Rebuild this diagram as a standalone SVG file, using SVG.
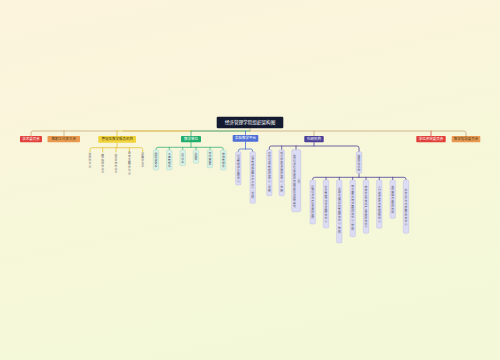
<svg xmlns="http://www.w3.org/2000/svg" width="500" height="360" viewBox="0 0 500 360">
<defs>
<linearGradient id="bg" x1="0" y1="0" x2="0.3" y2="1">
<stop offset="0" stop-color="#fcf3dc"/>
<stop offset="1" stop-color="#f3f9d8"/>
</linearGradient>
</defs>
<style>
text{font-family:"Liberation Sans","Noto Sans CJK SC",sans-serif}
.nt{font-size:3.5px;text-anchor:middle;dominant-baseline:central}
.w{fill:#fff}
.d{fill:#4a3a1a}
.vt{writing-mode:vertical-rl;font-size:2.8px;text-anchor:middle;dominant-baseline:central;fill:#5a5a6a}
.lt{fill:none;stroke-width:0.8;stroke-linecap:round;stroke-linejoin:round}
.gb{fill:#d9f1e6;stroke:#9fd6be;stroke-width:0.4}
.pb{fill:#dcdcf4;stroke:#b7b7e2;stroke-width:0.4}
</style>
<rect width="500" height="360" fill="url(#bg)"/>
<g id="connectors" class="lt">
<path d="M250 128.3V131H123" stroke="#c9a87c"/>
<path d="M191 131H250" stroke="#39b37a"/>
<path d="M117 131H191" stroke="#e2c33a"/>
<path d="M117 131H33Q31 131 31 133V136" stroke="#c9a87c"/>
<path d="M64 131V136" stroke="#c9a87c"/>
<path d="M117 131V136" stroke="#e2c33a"/>
<path d="M191 131V136" stroke="#39b37a"/>
<path d="M245.5 131V135" stroke="#4d6fd6"/>
<path d="M314 131V136" stroke="#c9a87c"/>
<path d="M431 131V136" stroke="#e04848"/>
<path d="M250 131H464Q466 131 466 133V136" stroke="#c9a87c"/>
<path d="M117 143V147.7M90 152V149.7Q90 147.7 92 147.7H140.7Q142.7 147.7 142.7 149.7V152M102.7 147.7V152M116 147.7V152M129.3 147.7V152" stroke="#e2c33a"/>
<path d="M191 142.3V147.3M156 150V149.3Q156 147.3 158 147.3H221.3Q223.3 147.3 223.3 149.3V150M169.3 147.3V150M182.7 147.3V150M196 147.3V150M210 147.3V150" stroke="#39b37a"/>
<path d="M245.5 141.7V149M238.3 151.7V151Q238.3 149 240.3 149H250.7Q252.7 149 252.7 151V151.7" stroke="#4d6fd6"/>
<path d="M314 142.3V146M269.3 149.7V148Q269.3 146 271.3 146H357Q359 146 359 148V151.7M281.7 146V149.7M296 146V149.7" stroke="#4b3f99"/>
<path d="M359 173.3V177.3M312.7 180V179.3Q312.7 177.3 314.7 177.3H404Q406 177.3 406 179.3V180M326 177.3V180M339.3 177.3V180M352.7 177.3V180M366 177.3V180M379.3 177.3V180M392.7 177.3V180" stroke="#4b3f99"/>
</g>
<g id="title">
<rect x="216.7" y="116.7" width="66.6" height="11.6" rx="1.2" fill="#141a30"/>
<text x="250" y="122.5" class="nt w" style="font-size:4.6px">经济管理学院组织架构图</text>
</g>
<g id="n-xueshu">
<rect x="20" y="136" width="22" height="6.3" rx="0.8" fill="#e23f3b"/>
<text x="31" y="139.2" class="nt w">学术委员会</text>
</g>
<g id="n-jiaozhigong">
<rect x="47.5" y="136" width="32.5" height="6.3" rx="0.8" fill="#ea9a50"/>
<text x="63.8" y="139.2" class="nt d">教职工代表大会</text>
</g>
<g id="n-guanli">
<rect x="98.3" y="136" width="37.7" height="6.7" rx="0.8" fill="#f1d33a"/>
<text x="117.2" y="139.4" class="nt d">管理及教学服务机构</text>
</g>
<g id="n-jiaoxue">
<rect x="181" y="136" width="20" height="6.3" rx="0.8" fill="#1fae6c"/>
<text x="191" y="139.2" class="nt w">教学单位</text>
</g>
<g id="n-shiyan">
<rect x="232.7" y="135" width="25.6" height="6.7" rx="0.8" fill="#4d6fd6"/>
<text x="245.5" y="138.4" class="nt w">实验教学平台</text>
</g>
<g id="n-keyan">
<rect x="304.3" y="136" width="19.4" height="6.3" rx="0.8" fill="#4b3f99"/>
<text x="314" y="139.2" class="nt w">科研机构</text>
</g>
<g id="n-xuewei">
<rect x="416.3" y="136" width="29.4" height="6.3" rx="0.8" fill="#e23f3b"/>
<text x="431" y="139.2" class="nt w">学位评定委员会</text>
</g>
<g id="n-zhidao">
<rect x="451.7" y="136" width="28.6" height="6.3" rx="0.8" fill="#ea9a50"/>
<text x="466" y="139.2" class="nt d">教学指导委员会</text>
</g>
<g id="y1"><text x="90" y="160" class="vt">党政办公室</text></g>
<g id="y2"><text x="102.7" y="163" class="vt">教学科研办公室</text></g>
<g id="y3"><text x="116" y="163" class="vt">学生工作办公室</text></g>
<g id="y4"><text x="129.3" y="163" class="vt">研究生教育办公室</text></g>
<g id="y5"><text x="142.7" y="160" class="vt">团委学生会</text></g>
<g id="g1"><rect x="153.3" y="150" width="5.4" height="20" rx="1.2" class="gb"/><text x="156" y="160" class="vt">国际贸易系</text></g>
<g id="g2"><rect x="166.6" y="150" width="5.4" height="20" rx="1.2" class="gb"/><text x="169.3" y="160" class="vt">工商管理系</text></g>
<g id="g3"><rect x="180" y="150" width="5.4" height="15.7" rx="1.2" class="gb"/><text x="182.7" y="157.8" class="vt">会计学系</text></g>
<g id="g4"><rect x="193.3" y="150" width="5.4" height="13.3" rx="1.2" class="gb"/><text x="196" y="156.6" class="vt">金融系</text></g>
<g id="g5"><rect x="207.3" y="150" width="5.4" height="17.7" rx="1.2" class="gb"/><text x="210" y="158.8" class="vt">市场营销系</text></g>
<g id="g6"><rect x="220.6" y="150" width="5.4" height="20" rx="1.2" class="gb"/><text x="223.3" y="160" class="vt">旅游管理系</text></g>
<g id="b1"><rect x="235.6" y="151.7" width="5.4" height="33.3" rx="1.2" class="pb"/><text x="238.3" y="168.3" class="vt">经济管理综合实验中心</text></g>
<g id="b2"><rect x="250" y="151.7" width="5.4" height="51.6" rx="1.2" class="pb"/><text x="252.7" y="177.5" class="vt">经济管理实验教学示范中心（省级）</text></g>
<g id="p1"><rect x="266.6" y="149.7" width="5.4" height="46" rx="1.2" class="pb"/><text x="269.3" y="172.7" class="vt">农村经济与管理研究中心（省级）</text></g>
<g id="p2"><rect x="279" y="149.7" width="5.4" height="46" rx="1.2" class="pb"/><text x="281.7" y="172.7" class="vt">现代服务业发展研究中心（市级）</text></g>
<g id="p3"><rect x="291.7" y="149.7" width="9" height="62" rx="1.2" class="pb"/><text x="294.3" y="180.7" class="vt">地方经济社会发展研究院省级重点研究基地</text><text x="298.8" y="180.7" class="vt">（筹）</text></g>
<g id="p4"><rect x="356.3" y="151.7" width="5.4" height="21.6" rx="1.2" class="pb"/><text x="359" y="162.5" class="vt">院级研究机构</text></g>
<g id="l1"><rect x="310" y="180" width="5.4" height="44" rx="1.2" class="pb"/><text x="312.7" y="202" class="vt">区域经济与产业发展研究所</text></g>
<g id="l2"><rect x="323.3" y="180" width="5.4" height="48" rx="1.2" class="pb"/><text x="326" y="204" class="vt">企业管理与创新发展研究中心</text></g>
<g id="l3"><rect x="336.6" y="180" width="5.4" height="63" rx="1.2" class="pb"/><text x="339.3" y="211.5" class="vt">金融工程与风险管理研究中心（校级）</text></g>
<g id="l4"><rect x="350" y="180" width="5.4" height="56.7" rx="1.2" class="pb"/><text x="352.7" y="208.3" class="vt">电子商务与物流管理研究中心（校级）</text></g>
<g id="l5"><rect x="363.3" y="180" width="5.4" height="53.3" rx="1.2" class="pb"/><text x="366" y="206.7" class="vt">旅游文化与休闲产业发展研究中心</text></g>
<g id="l6"><rect x="376.6" y="180" width="5.4" height="48.3" rx="1.2" class="pb"/><text x="379.3" y="204.2" class="vt">人力资源开发与管理研究中心</text></g>
<g id="l7"><rect x="390" y="180" width="5.4" height="38.3" rx="1.2" class="pb"/><text x="392.7" y="199.2" class="vt">市场营销与策划研究所</text></g>
<g id="l8"><rect x="403.3" y="180" width="5.4" height="53.3" rx="1.2" class="pb"/><text x="406" y="206.7" class="vt">财务会计与内部审计研究中心</text></g>
</svg>
